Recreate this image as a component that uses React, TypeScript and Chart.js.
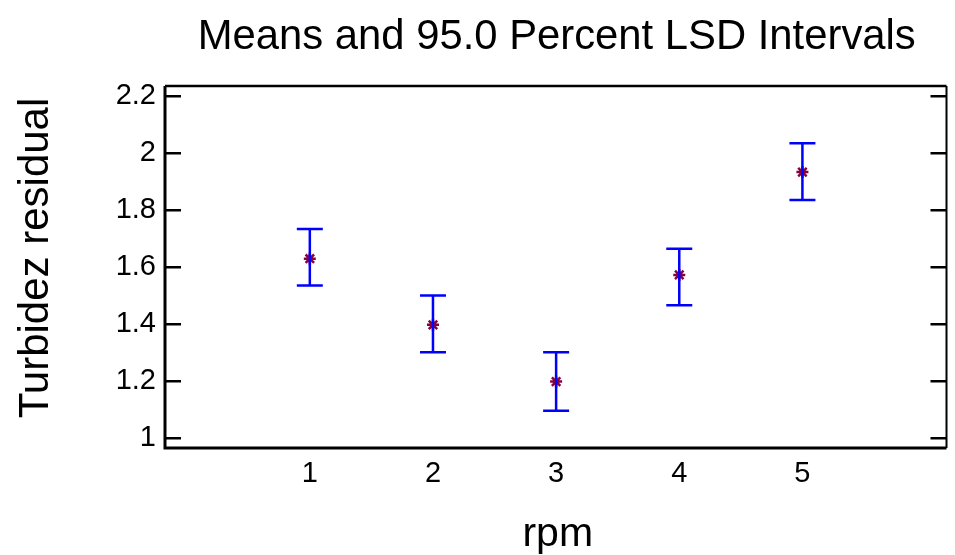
import React, { useEffect, useRef } from 'react';
import { Chart, registerables } from 'chart.js';

Chart.register(...registerables);

const categories = [1, 2, 3, 4, 5];
const means = [1.63, 1.398, 1.199, 1.573, 1.934];
const lowerLimits = [1.536, 1.302, 1.097, 1.467, 1.836];
const upperLimits = [1.734, 1.501, 1.302, 1.665, 2.035];
const yTickValues = [1, 1.2, 1.4, 1.6, 1.8, 2, 2.2];
const xTickValues = [1, 2, 3, 4, 5];
const titleText = 'Means and 95.0 Percent LSD Intervals';
const xTitle = 'rpm';
const yTitle = 'Turbidez residual';

const FONT = "'Liberation Sans', Arial, Helvetica, sans-serif";

const framePlugin = {
  id: 'lsdFrame',
  afterDatasetsDraw(chart: any) {
    const { ctx, chartArea: a, scales } = chart;
    const xs = scales.x;
    const ys = scales.y;
    ctx.save();
    // error bars
    ctx.strokeStyle = '#0000FF';
    ctx.lineWidth = 2.5;
    categories.forEach((c, i) => {
      const x = xs.getPixelForValue(c);
      const yl = ys.getPixelForValue(lowerLimits[i]);
      const yu = ys.getPixelForValue(upperLimits[i]);
      ctx.beginPath();
      ctx.moveTo(x, yu);
      ctx.lineTo(x, yl);
      ctx.moveTo(x - 13, yu);
      ctx.lineTo(x + 13, yu);
      ctx.moveTo(x - 13, yl);
      ctx.lineTo(x + 13, yl);
      ctx.stroke();
    });
    // frame
    ctx.strokeStyle = '#000';
    ctx.lineWidth = 3;
    ctx.beginPath();
    ctx.moveTo(a.left, a.top);
    ctx.lineTo(a.left, a.bottom);
    ctx.lineTo(a.right, a.bottom);
    ctx.stroke();
    ctx.lineWidth = 2.5;
    ctx.beginPath();
    ctx.moveTo(a.left, a.top);
    ctx.lineTo(a.right, a.top);
    ctx.stroke();
    ctx.lineWidth = 2;
    ctx.beginPath();
    ctx.moveTo(a.right, a.top);
    ctx.lineTo(a.right, a.bottom);
    ctx.stroke();
    // inward y ticks on both sides
    ctx.lineWidth = 2.5;
    yTickValues.forEach((v) => {
      const y = ys.getPixelForValue(v);
      ctx.beginPath();
      ctx.moveTo(a.left, y);
      ctx.lineTo(a.left + 16, y);
      ctx.moveTo(a.right, y);
      ctx.lineTo(a.right - 16, y);
      ctx.stroke();
    });
    ctx.restore();
  },
  afterDraw(chart: any) {
    const { ctx, chartArea: a } = chart;
    const cx = (a.left + a.right) / 2;
    ctx.save();
    ctx.fillStyle = '#000';
    ctx.textAlign = 'center';
    ctx.textBaseline = 'alphabetic';
    ctx.font = `41.8px ${FONT}`;
    ctx.fillText(titleText, cx + 1, 49);
    ctx.font = `41px ${FONT}`;
    ctx.fillText(xTitle, cx + 2, 546);
    ctx.translate(48, 258);
    ctx.rotate(-Math.PI / 2);
    ctx.font = `42px ${FONT}`;
    ctx.fillText(yTitle, 0, 0);
    ctx.restore();
  },
};

export default function App() {
  const ref = useRef<HTMLCanvasElement | null>(null);
  useEffect(() => {
    if (!ref.current) return;
    const chart = new Chart(ref.current, {
      type: 'scatter',
      data: {
        datasets: [
          {
            label: 'means',
            data: categories.map((c, i) => ({ x: c, y: means[i] })),
            pointStyle: 'star',
            radius: 6,
            borderWidth: 2.5,
            borderColor: '#880040',
            backgroundColor: '#880040',
            showLine: false,
          },
        ],
      },
      options: {
        animation: false,
        responsive: true,
        maintainAspectRatio: false,
        layout: { padding: { left: 0, right: 2, top: 86, bottom: 0 } },
        plugins: {
          legend: { display: false },
          tooltip: { enabled: false },
          title: { display: false },
        },
        scales: {
          x: {
            type: 'linear',
            min: -0.176,
            max: 6.17,
            grid: { display: false, drawTicks: false },
            border: { display: false },
            afterBuildTicks: (s: any) => {
              s.ticks = xTickValues.map((v) => ({ value: v }));
            },
            afterFit: (s: any) => {
              s.height = 107;
            },
            ticks: {
              color: '#000',
              padding: 9,
              font: { family: FONT, size: 29 },
              callback: (v: any) => String(v),
            },
          },
          y: {
            type: 'linear',
            min: 0.966,
            max: 2.236,
            grid: { display: false, drawTicks: false },
            border: { display: false },
            afterBuildTicks: (s: any) => {
              s.ticks = yTickValues.map((v) => ({ value: v }));
            },
            afterFit: (s: any) => {
              s.width = 165;
            },
            ticks: {
              color: '#000',
              padding: 9,
              font: { family: FONT, size: 29 },
              callback: (v: any) => String(Number(Number(v).toFixed(1))),
            },
          },
        },
      },
      plugins: [framePlugin],
    });
    return () => chart.destroy();
  }, []);
  return (
    <div style={{ position: 'fixed', left: 0, top: 0, width: 955, height: 555, background: '#fff' }}>
      <canvas ref={ref} />
    </div>
  );
}
